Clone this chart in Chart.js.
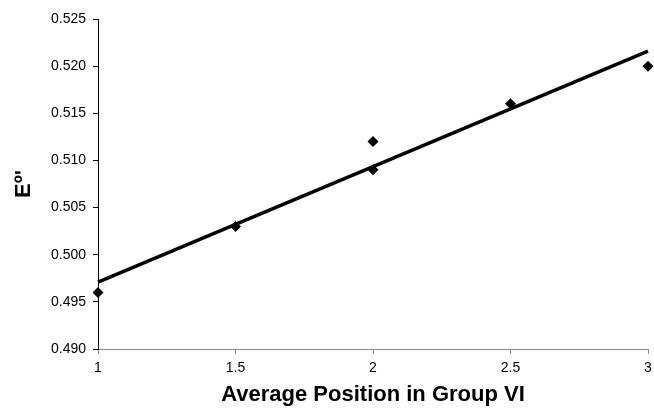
<!DOCTYPE html>
<html>
<head>
<meta charset="utf-8">
<script src="https://cdn.jsdelivr.net/npm/chart.js@4"></script>
<style>
  body { margin: 0; background: #fff; }
</style>
</head>
<body>
<canvas id="myChart" width="654" height="410"></canvas>
<script>
// measured points
const posX = [1, 1.5, 2, 2, 2.5, 3];
const potE = [0.496, 0.503, 0.512, 0.509, 0.516, 0.520];

// linear trendline, ends
const trendX = [1, 3];
const trendY = [0.4971, 0.5216];

const xTicks = [1, 1.5, 2, 2.5, 3];
const yTicks = [0.490, 0.495, 0.500, 0.505, 0.510, 0.515, 0.520, 0.525];

const tickFont = { family: "'Liberation Sans', Arial, sans-serif", size: 14 };
const titleFont = { family: "'Liberation Sans', Arial, sans-serif", size: 22, weight: 'bold' };

new Chart("myChart", {
  type: "scatter",
  data: {
    datasets: [{
      data: posX.map((x, i) => ({ x: x, y: potE[i] })),
      pointStyle: 'rectRot',
      pointRadius: 5.5,
      pointHoverRadius: 5.5,
      backgroundColor: '#000',
      borderColor: '#000',
      borderWidth: 0,
      clip: false,
      order: 1
    }, {
      type: 'line',
      data: trendX.map((x, i) => ({ x: x, y: trendY[i] })),
      borderColor: '#000',
      borderWidth: 3.5,
      pointRadius: 0,
      fill: false,
      clip: false,
      order: 0
    }]
  },
  options: {
    responsive: false,
    animation: false,
    layout: { padding: { top: 19, right: 0, left: 0, bottom: 0 } },
    plugins: {
      legend: { display: false },
      tooltip: { enabled: false }
    },
    scales: {
      x: {
        type: 'linear',
        min: 1,
        max: 3,
        afterBuildTicks: s => { s.ticks = xTicks.map(v => ({ value: v })); },
        afterFit: s => { s.height = 61; s.paddingRight = 6; },
        ticks: {
          font: tickFont,
          color: '#000',
          padding: 6,
          maxRotation: 0,
          callback: v => String(v)
        },
        grid: { display: true, drawOnChartArea: false, tickLength: 5, tickColor: '#888' },
        border: { display: true, color: '#888', width: 1 },
        title: {
          display: true,
          text: 'Average Position in Group VI',
          font: titleFont,
          color: '#000',
          padding: { top: 0, bottom: 2 }
        }
      },
      y: {
        min: 0.490,
        max: 0.525,
        afterBuildTicks: s => { s.ticks = yTicks.map(v => ({ value: v })); },
        afterFit: s => { s.width = 98; },
        ticks: {
          font: tickFont,
          color: '#000',
          padding: 7,
          callback: v => Number(v).toFixed(3)
        },
        grid: { display: true, drawOnChartArea: false, tickLength: 5, tickColor: '#000' },
        border: { display: true, color: '#000', width: 1 },
        title: {
          display: true,
          text: "Eº'",
          font: titleFont,
          color: '#000',
          padding: { top: 11, bottom: 0 }
        }
      }
    }
  }
});
</script>
</body>
</html>
